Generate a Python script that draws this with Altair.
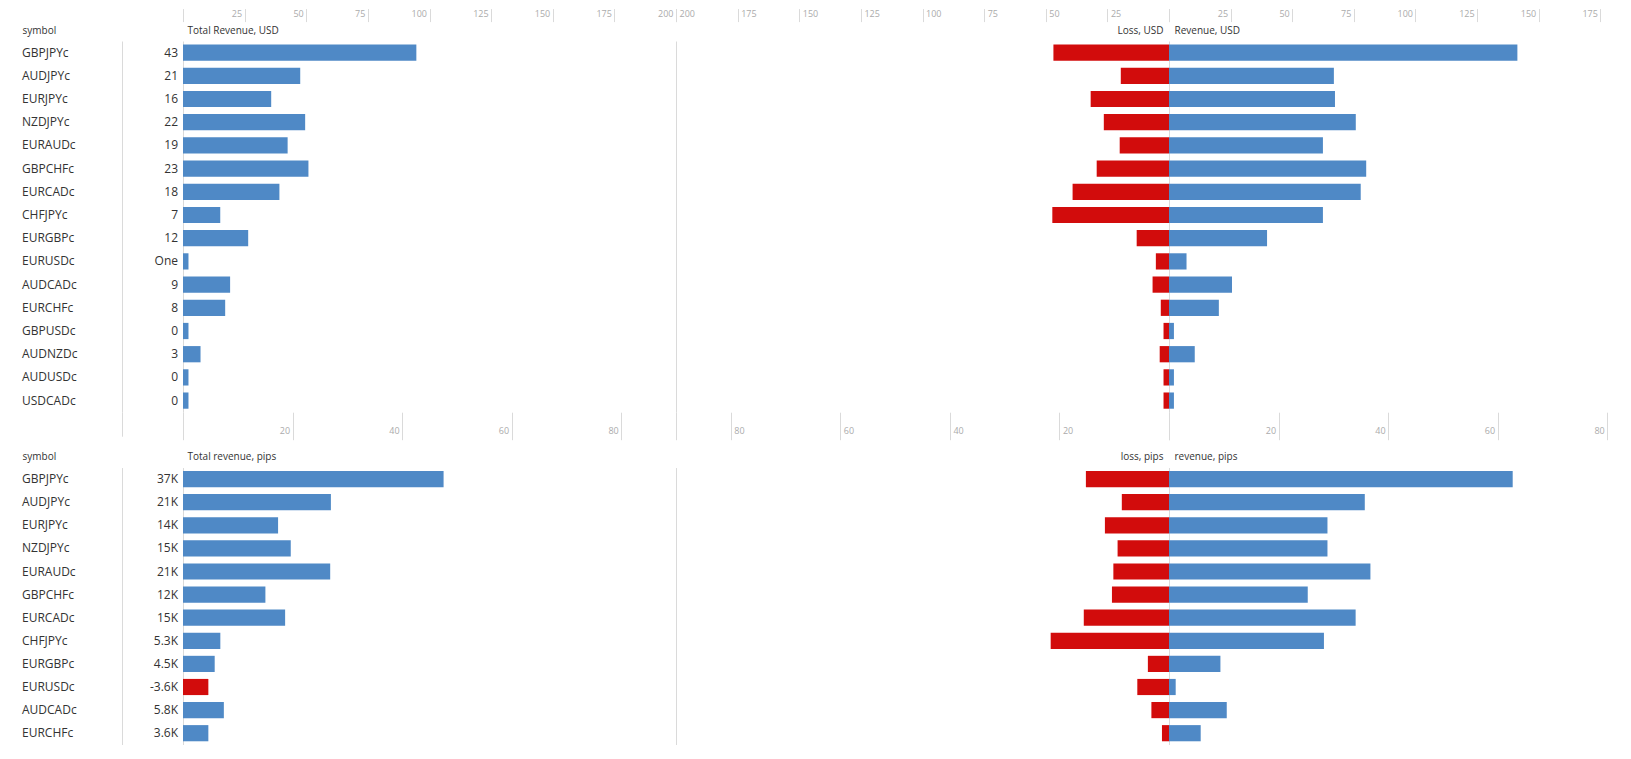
import altair as alt
import pandas as pd

symbols = ["GBPJPYc", "AUDJPYc", "EURJPYc", "NZDJPYc", "EURAUDc", "GBPCHFc", "EURCADc", "CHFJPYc",
           "EURGBPc", "EURUSDc", "AUDCADc", "EURCHFc", "GBPUSDc", "AUDNZDc", "AUDUSDc", "USDCADc"]

# USD block, all 16 symbols
usd_total_text = ["43", "21", "16", "22", "19", "23", "18", "7", "12", "One", "9", "8", "0", "3", "0", "0"]
usd_total = [42.6, 21.4, 16.1, 22.3, 19.1, 22.9, 17.6, 6.8, 11.9, 1.0, 8.6, 7.7, 1.0, 3.2, 1.0, 1.0]
usd_loss = [21.1, 8.8, 14.3, 11.9, 9.0, 13.2, 17.6, 21.3, 5.9, 2.4, 3.0, 1.5, 1.0, 1.7, 1.0, 1.0]
usd_revenue = [63.6, 30.1, 30.3, 34.1, 28.1, 36.0, 35.0, 28.1, 17.9, 3.2, 11.5, 9.1, 0.9, 4.7, 0.9, 0.9]

# pips block, only the first 12 rows are on screen
pips_symbols = symbols[:12]
pips_total_text = ["37K", "21K", "14K", "15K", "21K", "12K", "15K", "5.3K", "4.5K", "-3.6K", "5.8K", "3.6K"]
pips_total = [37000, 21000, 13500, 15300, 20900, 11700, 14500, 5300, 4500, -3600, 5800, 3600]
pips_loss = [11800, 6700, 9100, 7300, 7900, 8100, 12100, 16800, 3000, 4500, 2500, 1000]
pips_revenue = [48800, 27800, 22500, 22500, 28600, 19700, 26500, 22000, 7300, 950, 8200, 4500]

usd_ticks = [0, 20, 40, 60, 80]
prev_ticks = [0, 25, 50, 75, 100, 125, 150, 175, 200]   # axis of the panel scrolled off above

BLUE = "#4f89c6"
RED = "#d20c0c"
TEXT = "#333333"
LINE = "#dadada"
TICK_TEXT = "#ababab"
FONT = "Open Sans"

SYM_W, VAL_W, TOT_W, LOSS_W, REV_W = 114, 61, 493, 493, 450
USD_MAX, PIPS_MAX, PREV_MAX = 90, 70000, 200
TOP_H, BOT_H = 16 * 23.2, 12 * 23.1


def y_enc(order, title="", title_x=0, align="left", domain=True):
    return alt.Y("symbol:N", sort=order,
                 scale=alt.Scale(paddingInner=0.3, paddingOuter=0.15),
                 axis=alt.Axis(title=title, titleAngle=0, titleX=title_x, titleY=-11,
                               titleAlign=align, titleBaseline="middle", titleFontWeight="normal",
                               titleFontSize=10, titleColor=TEXT, titleFont=FONT,
                               labels=False, ticks=False, grid=False,
                               domain=domain, domainColor=LINE))


def bottom_axis(values, align, dx):
    return alt.Axis(orient="bottom", values=values, title="", grid=False, domain=False,
                    tickSize=27.5, tickColor=LINE, labelPadding=-9, labelBaseline="middle",
                    labelAlign=align, labelOffset=dx, labelFontSize=9, labelColor=TICK_TEXT,
                    labelFont=FONT, labelFlush=False, labelOverlap=False,
                    labelExpr="datum.value > 0 && datum.value % 20 == 0 ? datum.label : ''")


def prev_axis(values, align, dx):
    return alt.Axis(orient="top", values=values, title="", grid=False, domain=False,
                    offset=19.4, tickSize=13, tickColor=LINE, labelPadding=-5,
                    labelBaseline="middle", labelAlign=align, labelOffset=dx, labelFontSize=9,
                    labelColor=TICK_TEXT, labelFont=FONT, labelFlush=False, labelOverlap=False,
                    labelExpr="datum.value > 0 ? datum.label : ''")


def symbol_col(df, order, height, header):
    return alt.Chart(df).mark_text(align="left", baseline="middle", dx=14, font=FONT,
                                   fontSize=12, color=TEXT).encode(
        x=alt.X(datum=0, type="quantitative", scale=alt.Scale(domain=[0, 1]), axis=None),
        y=y_enc(order, header, 14, "left", False),
        text="symbol:N",
    ).properties(width=SYM_W, height=height)


def value_col(df, order, height, with_axis):
    axis = None
    if with_axis:
        axis = alt.Axis(values=[0], title="", labels=False, domain=False, grid=False,
                        tickSize=24, tickColor=LINE)
    return alt.Chart(df).mark_text(align="right", baseline="middle", dx=-5, font=FONT,
                                   fontSize=12, color=TEXT).encode(
        x=alt.X(datum=1, type="quantitative", scale=alt.Scale(domain=[0, 1]), axis=axis),
        y=y_enc(order),
        text="label:N",
    ).properties(width=VAL_W, height=height)


def bar_panel(df, order, height, width, field, dom, reverse, color, header, title_x, title_align,
              bottom_vals=None, prev_dom=None, prev_vals=None):
    align, dx = ("left", 3) if reverse else ("right", -3)
    y = y_enc(order, header, title_x, title_align, True)
    base = alt.Chart(df).transform_calculate(size="abs(datum.total)")
    main = base.mark_bar().encode(
        x=alt.X(f"{field}:Q", scale=alt.Scale(domain=[0, dom], reverse=reverse, nice=False),
                axis=bottom_axis(bottom_vals, align, dx) if bottom_vals else None),
        y=y,
        color=color,
    )
    if prev_dom is None:
        return main.properties(width=width, height=height)
    ghost = base.mark_bar(opacity=0).encode(
        x=alt.X(f"{field}:Q", scale=alt.Scale(domain=[0, prev_dom], reverse=reverse, nice=False),
                axis=prev_axis(prev_vals, align, dx)),
        y=y,
    )
    return alt.layer(main, ghost).resolve_scale(x="independent").resolve_axis(
        x="independent").properties(width=width, height=height)


def block(order, total, text, loss, revenue, unit_max, names, height, top):
    df = pd.DataFrame({"symbol": order, "total": total, "label": text,
                       "loss": loss, "revenue": revenue})
    rev_max = unit_max * REV_W / LOSS_W
    total_color = alt.when(alt.datum.total < 0).then(alt.value(RED)).otherwise(alt.value(BLUE))
    extra_tot, extra_loss, extra_rev = {}, {}, {}
    if top:
        extra_tot = dict(bottom_vals=usd_ticks, prev_dom=PREV_MAX, prev_vals=prev_ticks)
        extra_loss = dict(bottom_vals=usd_ticks + [unit_max], prev_dom=PREV_MAX, prev_vals=prev_ticks)
        extra_rev = dict(bottom_vals=usd_ticks, prev_dom=PREV_MAX * REV_W / LOSS_W,
                         prev_vals=prev_ticks[:-1])
    return [
        symbol_col(df, order, height, "symbol"),
        value_col(df, order, height, top),
        bar_panel(df, order, height, TOT_W, "size", unit_max, False, total_color,
                  names[0], 4, "left", **extra_tot),
        bar_panel(df, order, height, LOSS_W, "loss", unit_max, True, alt.value(RED),
                  names[1], LOSS_W - 6, "right", **extra_loss),
        bar_panel(df, order, height, REV_W, "revenue", rev_max, False, alt.value(BLUE),
                  names[2], 5, "left", **extra_rev),
    ]


usd_cells = block(symbols, usd_total, usd_total_text, usd_loss, usd_revenue, USD_MAX,
                  ["Total Revenue, USD", "Loss, USD", "Revenue, USD"], TOP_H, True)
pips_cells = block(pips_symbols, pips_total, pips_total_text, pips_loss, pips_revenue, PIPS_MAX,
                   ["Total revenue, pips", "loss, pips", "revenue, pips"], BOT_H, False)

chart = alt.concat(
    *usd_cells, *pips_cells,
    columns=5,
    spacing={"row": 54.55, "column": 0},
    bounds="flush",
).properties(padding=0).configure_view(strokeWidth=0)

chart.save("out.html", embed_options={"renderer": "svg", "actions": False})
